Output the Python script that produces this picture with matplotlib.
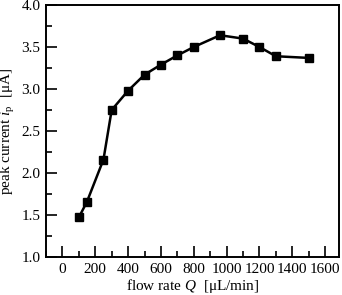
import numpy as np
import matplotlib
matplotlib.use("Agg")
import matplotlib.pyplot as plt
from matplotlib.ticker import MultipleLocator

"""Data read from the chart"""
flow_rate = [100, 150, 250, 300, 400, 500, 600, 700, 800, 960, 1100, 1200, 1300, 1500]   # uL/min
peak_current = [1.47, 1.66, 2.16, 2.75, 2.98, 3.17, 3.29, 3.40, 3.50, 3.64, 3.60, 3.50, 3.39, 3.37]  # uA

plt.rcParams['font.family'] = ['Liberation Serif', 'DejaVu Serif']
plt.rcParams['mathtext.fontset'] = 'custom'
plt.rcParams['mathtext.rm'] = 'Liberation Serif'
plt.rcParams['mathtext.it'] = 'Liberation Serif:italic'
plt.rcParams['font.size'] = 11

fig = plt.figure(figsize=(3.42, 2.95), dpi=100)
ax = fig.add_axes([0.1345, 0.129, 0.857, 0.854])

ax.plot(flow_rate, peak_current, color='black', lw=1.8, marker='s', ms=5.5)

ax.set_xlim(-100, 1685)
ax.set_ylim(1.0, 4.0)
ax.xaxis.set_major_locator(MultipleLocator(200))
ax.xaxis.set_minor_locator(MultipleLocator(100))
ax.yaxis.set_major_locator(MultipleLocator(0.5))
ax.yaxis.set_minor_locator(MultipleLocator(0.25))
ax.yaxis.set_major_formatter(matplotlib.ticker.FormatStrFormatter('%.1f'))
ax.tick_params(which='both', direction='in', top=False, right=False, width=1.2, labelsize=11, pad=4)
ax.tick_params(which='major', length=8)
ax.tick_params(which='minor', length=4.5)
for s in ax.spines.values():
    s.set_linewidth(1.4)

ax.set_xlabel('flow rate $Q$  [μL/min]', fontsize=11, labelpad=1)
ax.set_ylabel('peak current $i_\\mathrm{p}$  [μA]', fontsize=11, labelpad=3)

fig.savefig('out.png', dpi=100)
